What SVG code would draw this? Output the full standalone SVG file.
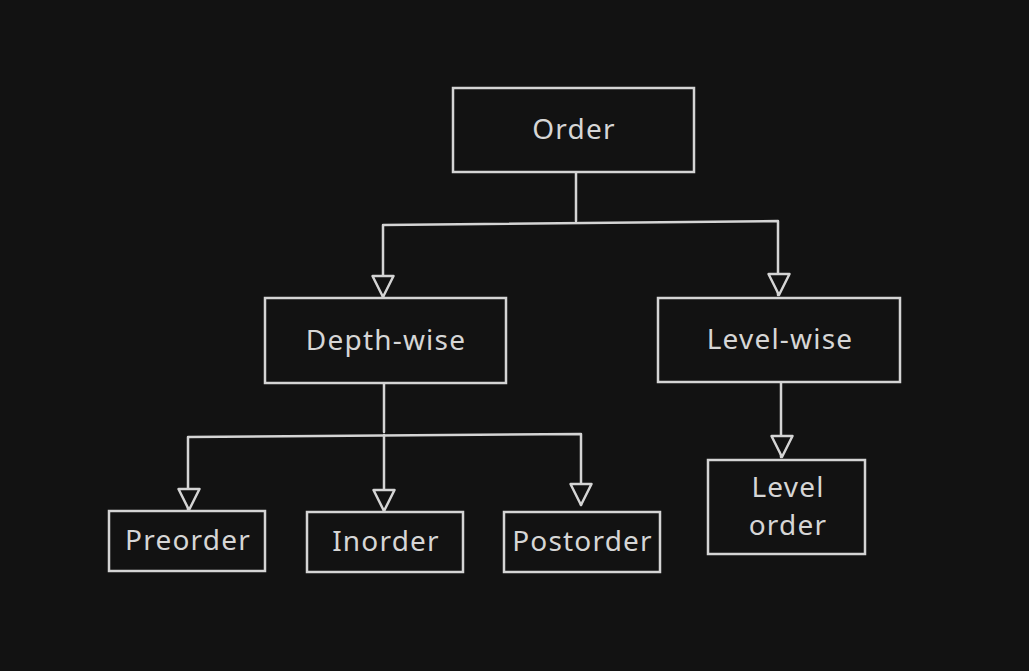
<svg xmlns="http://www.w3.org/2000/svg" width="1029" height="671" viewBox="0 0 1029 671">
<style>
.box{fill:#121212;stroke:#d4d4d4;stroke-width:2.5}
.lbl{font-family:"Noto Sans","Open Sans",sans-serif;font-size:28px;letter-spacing:1.2px;fill:#d6d6d6;text-anchor:middle;dominant-baseline:central}
.ln{fill:none;stroke:#d4d4d4;stroke-width:2.5;stroke-linejoin:round;stroke-linecap:round}
.ar{fill:#121212;stroke:#d4d4d4;stroke-width:2.5;stroke-linejoin:round}
</style>
<defs>
<path id="tri" d="M-10.5,-21 L10.5,-21 L0,0 Z"/>
</defs>
<rect width="1029" height="671" fill="#121212"/>
<g id="connectors">
<path class="ln" d="M576,173 V221"/>
<path class="ln" d="M383,297 V225 L778,221 V295"/>
<path class="ln" d="M384,384 V432"/>
<path class="ln" d="M188,510 V437 L581,434 V505"/>
<path class="ln" d="M384,435 V511"/>
<path class="ln" d="M781,383 V457"/>
<use href="#tri" class="ar" x="383" y="297"/>
<use href="#tri" class="ar" x="779" y="295"/>
<use href="#tri" class="ar" x="189" y="510"/>
<use href="#tri" class="ar" x="384" y="511"/>
<use href="#tri" class="ar" x="581" y="505"/>
<use href="#tri" class="ar" x="782" y="457"/>
</g>
<g id="order"><rect class="box" x="453" y="88" width="241" height="84"/><text class="lbl" x="574" y="128">Order</text></g>
<g id="depth"><rect class="box" x="265" y="298" width="241" height="85"/><text class="lbl" x="386" y="339">Depth-wise</text></g>
<g id="level"><rect class="box" x="658" y="298" width="242" height="84"/><text class="lbl" x="780" y="338">Level-wise</text></g>
<g id="preorder"><rect class="box" x="109" y="511" width="156" height="60"/><text class="lbl" x="188" y="539">Preorder</text></g>
<g id="inorder"><rect class="box" x="307" y="512" width="156" height="60"/><text class="lbl" x="386" y="540">Inorder</text></g>
<g id="postorder"><rect class="box" x="504" y="512" width="156" height="60"/><text class="lbl" x="582.5" y="540">Postorder</text></g>
<g id="levelorder"><rect class="box" x="708" y="460" width="157" height="94"/><text class="lbl" x="788" y="486">Level</text><text class="lbl" x="788" y="524">order</text></g>
</svg>
